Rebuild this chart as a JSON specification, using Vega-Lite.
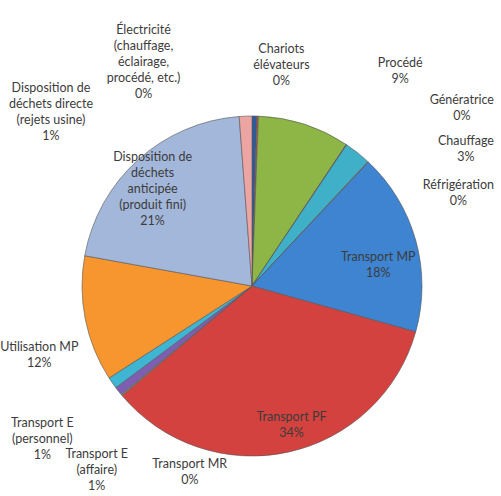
{
  "$schema": "https://vega.github.io/schema/vega-lite/v6.json",
  "autosize": {"type": "none"},
  "width": 498,
  "height": 420,
  "padding": {"left": 3, "top": 76, "right": 0, "bottom": 0},
  "background": "white",
  "config": {"view": {"stroke": null}, "text": {"font": "Lato", "fontSize": 12.5, "lineHeight": 16, "color": "#3c3c3c", "align": "center", "baseline": "middle"}},
  "data": {"values": [
    {"i": 1, "name": "Électricité", "value": 0.45, "label": ["Électricité", "(chauffage,", "éclairage,", "procédé, etc.)", "0%"]},
    {"i": 2, "name": "Chariots élévateurs", "value": 0.15, "label": ["Chariots", "élévateurs", "0%"]},
    {"i": 3, "name": "Procédé", "value": 8.75, "label": ["Procédé", "9%"]},
    {"i": 4, "name": "Génératrice", "value": 0.05, "label": ["Génératrice", "0%"]},
    {"i": 5, "name": "Chauffage", "value": 2.55, "label": ["Chauffage", "3%"]},
    {"i": 6, "name": "Réfrigération", "value": 0.05, "label": ["Réfrigération", "0%"]},
    {"i": 7, "name": "Transport MP", "value": 17.35, "label": ["Transport MP", "18%"]},
    {"i": 8, "name": "Transport PF", "value": 34.5, "label": ["Transport PF", "34%"]},
    {"i": 9, "name": "Transport MR", "value": 0.1, "label": ["Transport MR", "0%"]},
    {"i": 10, "name": "Transport E (affaire)", "value": 0.85, "label": ["Transport E", "(affaire)", "1%"]},
    {"i": 11, "name": "Transport E (personnel)", "value": 1.1, "label": ["Transport E", "(personnel)", "1%"]},
    {"i": 12, "name": "Utilisation MP", "value": 11.95, "label": ["Utilisation MP", "12%"]},
    {"i": 13, "name": "Disposition de déchets anticipée (produit fini)", "value": 20.95, "label": ["Disposition de", "déchets", "anticipée", "(produit fini)", "21%"]},
    {"i": 14, "name": "Disposition de déchets directe (rejets usine)", "value": 1.2, "label": ["Disposition de", "déchets directe", "(rejets usine)", "1%"]}
  ]},
  "encoding": {
    "theta": {"field": "value", "type": "quantitative", "stack": true},
    "order": {"field": "i", "type": "quantitative"}
  },
  "layer": [
    {
      "mark": {"type": "arc", "outerRadius": 170, "stroke": "#555555", "strokeWidth": 0.6},
      "encoding": {
        "color": {"field": "name", "type": "nominal", "legend": null,
          "scale": {
            "domain": ["Électricité", "Chariots élévateurs", "Procédé", "Génératrice", "Chauffage", "Réfrigération", "Transport MP", "Transport PF", "Transport MR", "Transport E (affaire)", "Transport E (personnel)", "Utilisation MP", "Disposition de déchets anticipée (produit fini)", "Disposition de déchets directe (rejets usine)"],
            "range": ["#2C5C9E", "#C0504D", "#8DB646", "#8064A2", "#40AFC8", "#F79646", "#3E84D0", "#D3423E", "#9BBB59", "#7E5EB0", "#3DB5D3", "#F7962E", "#A3B7DA", "#EDA5A4"]
          }}
      }
    },
    {"mark": {"type": "text", "radius": 251, "dx": -112, "dy": -5}, "encoding": {"text": {"condition": {"test": "datum.i === 1", "field": "label"}, "value": ""}}},
    {"mark": {"type": "text", "radius": 223, "dx": 22, "dy": -14}, "encoding": {"text": {"condition": {"test": "datum.i === 2", "field": "label"}, "value": ""}}},
    {"mark": {"type": "text", "radius": 261, "dx": 68, "dy": 25}, "encoding": {"text": {"condition": {"test": "datum.i === 3", "field": "label"}, "value": ""}}},
    {"mark": {"type": "text", "radius": 275, "dx": 57, "dy": 43}, "encoding": {"text": {"condition": {"test": "datum.i === 4", "field": "label"}, "value": ""}}},
    {"mark": {"type": "text", "radius": 254, "dx": 56, "dy": 54}, "encoding": {"text": {"condition": {"test": "datum.i === 5", "field": "label"}, "value": ""}}},
    {"mark": {"type": "text", "radius": 226, "dx": 52, "dy": 64}, "encoding": {"text": {"condition": {"test": "datum.i === 6", "field": "label"}, "value": ""}}},
    {"mark": {"type": "text", "radius": 128, "dx": 3, "dy": 5}, "encoding": {"text": {"condition": {"test": "datum.i === 7", "field": "label"}, "value": ""}}},
    {"mark": {"type": "text", "radius": 144, "dx": 9, "dy": -10}, "encoding": {"text": {"condition": {"test": "datum.i === 8", "field": "label"}, "value": ""}}},
    {"mark": {"type": "text", "radius": 196, "dx": 88, "dy": 52}, "encoding": {"text": {"condition": {"test": "datum.i === 9", "field": "label"}, "value": ""}}},
    {"mark": {"type": "text", "radius": 241, "dx": 34, "dy": 19}, "encoding": {"text": {"condition": {"test": "datum.i === 10", "field": "label"}, "value": ""}}},
    {"mark": {"type": "text", "radius": 260, "dx": 4, "dy": -11}, "encoding": {"text": {"condition": {"test": "datum.i === 11", "field": "label"}, "value": ""}}},
    {"mark": {"type": "text", "radius": 223, "dx": 6, "dy": 17}, "encoding": {"text": {"condition": {"test": "datum.i === 12", "field": "label"}, "value": ""}}},
    {"mark": {"type": "text", "radius": 138, "dx": -7, "dy": -26}, "encoding": {"text": {"condition": {"test": "datum.i === 13", "field": "label"}, "value": ""}}},
    {"mark": {"type": "text", "radius": 266, "dx": -191, "dy": 68}, "encoding": {"text": {"condition": {"test": "datum.i === 14", "field": "label"}, "value": ""}}}
  ]
}
